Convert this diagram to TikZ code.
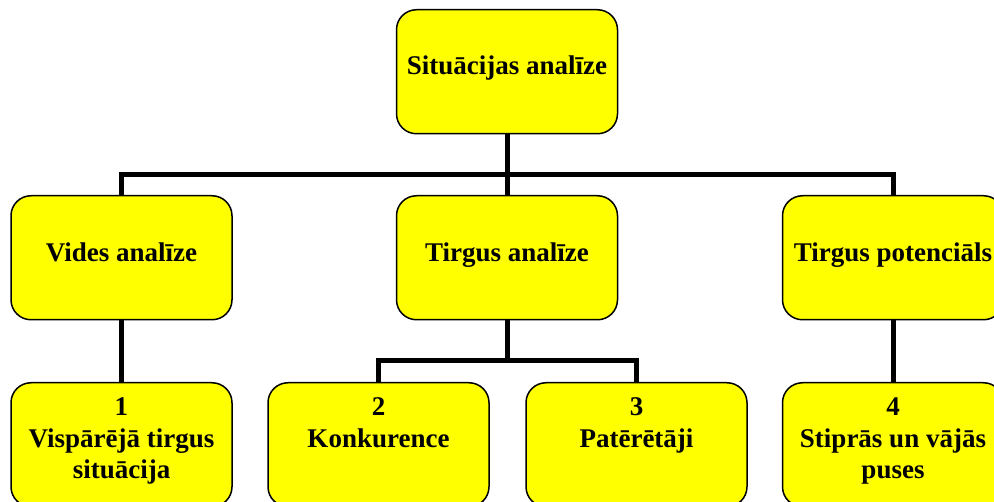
\documentclass[tikz,border=0pt]{standalone}
\usepackage{fontspec}
\setmainfont{Liberation Serif}
\definecolor{boxyellow}{RGB}{255,255,0}
\newcommand\boxtext[2]{\parbox[c][124pt][t]{221pt}{\centering\bfseries\fontsize{27pt}{31.5pt}\selectfont\rule{0pt}{#1pt}#2}}
\begin{document}
\begin{tikzpicture}[x=1pt,y=-1pt,
  box/.style={draw=black, line width=1.5pt, fill=boxyellow, rounded corners=20pt,
    inner sep=0pt, minimum width=221pt, minimum height=124pt, anchor=north},
  conn/.style={draw=black, line width=5pt}]
\useasboundingbox (0,0) rectangle (994,502);
% top
\node[box] (top) at (507,9) {\boxtext{65}{Situācijas analīze}};
% middle row
\node[box] (m1) at (121.5,195) {\boxtext{66}{Vides analīze}};
\node[box] (m2) at (507,195) {\boxtext{66}{Tirgus analīze}};
\node[box] (m3) at (893,195) {\boxtext{66}{Tirgus potenciāls}};
% bottom row
\node[box] (b1) at (121.5,382) {\boxtext{33}{1\\Vispārējā tirgus\\situācija}};
\node[box] (b2) at (378.5,382) {\boxtext{33}{2\\Konkurence}};
\node[box] (b3) at (636.5,382) {\boxtext{33}{3\\Patērētāji}};
\node[box] (b4) at (893,382) {\boxtext{33}{4\\Stiprās un vājās\\puses}};
% connectors
\coordinate (hb) at (507,175);
\coordinate (hb2) at (507,361);
\draw[conn] (top.south) -- (hb);
\draw[conn] (hb) -| (m1.north);
\draw[conn] (hb) -| (m3.north);
\draw[conn] (hb) -- (m2.north);
\draw[conn] (m1.south) -- (b1.north);
\draw[conn] (m3.south) -- (b4.north);
\draw[conn] (m2.south) -- (hb2);
\draw[conn] (hb2) -| (b2.north);
\draw[conn] (hb2) -| (b3.north);
\end{tikzpicture}
\end{document}
